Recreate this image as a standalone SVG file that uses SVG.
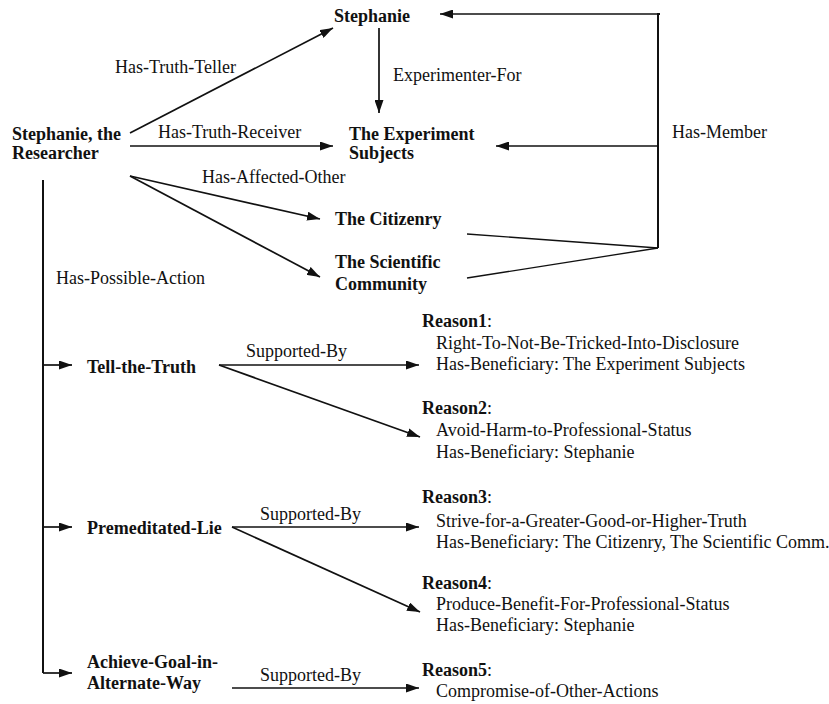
<svg xmlns="http://www.w3.org/2000/svg" width="829" height="704" viewBox="0 0 829 704" font-family="Liberation Serif" font-size="18">
  <defs>
    <marker id="arrow" viewBox="0 0 13 9" refX="13" refY="4.5" markerWidth="13" markerHeight="9" markerUnits="userSpaceOnUse" orient="auto">
      <path d="M0,0 L13,4.5 L0,9 Z" fill="#111"/>
    </marker>
    <style>
      text { fill: #111; }
      .node { font-weight: bold; }
      .edge { stroke: #111; stroke-width: 1.7; fill: none; }
      .arr { marker-end: url(#arrow); }
      .thin { stroke-width: 1.3; }
    </style>
  </defs>
  <rect width="829" height="704" fill="#fff"/>

  <!-- connectors -->
  <g id="connectors">
    <line class="edge arr" x1="130" y1="133" x2="333" y2="28"/>
    <line class="edge arr" x1="130" y1="146" x2="333" y2="146"/>
    <line class="edge arr" x1="379" y1="28" x2="379" y2="113"/>
    <line class="edge arr" x1="130" y1="176" x2="320" y2="219"/>
    <line class="edge arr" x1="130" y1="176" x2="320" y2="277"/>
    <!-- Has-Member bracket -->
    <line class="edge thin" x1="467" y1="234" x2="658" y2="248"/>
    <line class="edge thin" x1="467" y1="278" x2="658" y2="248"/>
    <polyline class="edge" points="658,248 658,14 660,14" style="stroke-width:2"/>
    <line class="edge arr" x1="658" y1="14" x2="440" y2="14"/>
    <line class="edge arr" x1="658" y1="146" x2="496" y2="146"/>
    <!-- Has-Possible-Action spine -->
    <polyline class="edge" points="43,180 43,673" style="stroke-width:2"/>
    <line class="edge arr" x1="43" y1="365" x2="72" y2="365"/>
    <line class="edge arr" x1="43" y1="527" x2="72" y2="527"/>
    <line class="edge arr" x1="43" y1="673" x2="72" y2="673"/>
    <!-- Supported-By edges -->
    <line class="edge arr" x1="219" y1="365" x2="419" y2="365"/>
    <line class="edge arr" x1="219" y1="365" x2="420" y2="437"/>
    <line class="edge arr" x1="232" y1="527" x2="419" y2="527"/>
    <line class="edge arr" x1="232" y1="527" x2="420" y2="612"/>
    <line class="edge arr" x1="232" y1="688" x2="419" y2="688"/>
  </g>

  <!-- connector labels -->
  <g id="edge-labels">
    <text x="115" y="73">Has-Truth-Teller</text>
    <text x="158" y="138">Has-Truth-Receiver</text>
    <text x="393" y="81">Experimenter-For</text>
    <text x="202" y="183">Has-Affected-Other</text>
    <text x="672" y="138">Has-Member</text>
    <text x="56" y="284">Has-Possible-Action</text>
    <text x="246" y="357">Supported-By</text>
    <text x="260" y="520">Supported-By</text>
    <text x="260" y="681">Supported-By</text>
  </g>

  <g id="researcher">
    <text class="node" x="12" y="140">Stephanie, the</text>
    <text class="node" x="12" y="159">Researcher</text>
  </g>
  <g id="stephanie">
    <text class="node" x="334" y="22">Stephanie</text>
  </g>
  <g id="experiment-subjects">
    <text class="node" x="349" y="140">The Experiment</text>
    <text class="node" x="349" y="159">Subjects</text>
  </g>
  <g id="citizenry">
    <text class="node" x="335" y="225">The Citizenry</text>
  </g>
  <g id="scientific-community">
    <text class="node" x="335" y="268">The Scientific</text>
    <text class="node" x="335" y="290">Community</text>
  </g>
  <g id="tell-the-truth">
    <text class="node" x="87" y="373">Tell-the-Truth</text>
  </g>
  <g id="premeditated-lie">
    <text class="node" x="87" y="534">Premeditated-Lie</text>
  </g>
  <g id="achieve-goal">
    <text class="node" x="87" y="668">Achieve-Goal-in-</text>
    <text class="node" x="87" y="689">Alternate-Way</text>
  </g>

  <g id="reason1">
    <text x="422" y="327"><tspan font-weight="bold">Reason1</tspan>:</text>
    <text x="436" y="349">Right-To-Not-Be-Tricked-Into-Disclosure</text>
    <text x="436" y="370">Has-Beneficiary: The Experiment Subjects</text>
  </g>
  <g id="reason2">
    <text x="422" y="414"><tspan font-weight="bold">Reason2</tspan>:</text>
    <text x="436" y="436">Avoid-Harm-to-Professional-Status</text>
    <text x="436" y="458">Has-Beneficiary: Stephanie</text>
  </g>
  <g id="reason3">
    <text x="422" y="503"><tspan font-weight="bold">Reason3</tspan>:</text>
    <text x="436" y="527">Strive-for-a-Greater-Good-or-Higher-Truth</text>
    <text x="436" y="548">Has-Beneficiary: The Citizenry, The Scientific Comm.</text>
  </g>
  <g id="reason4">
    <text x="422" y="589"><tspan font-weight="bold">Reason4</tspan>:</text>
    <text x="436" y="610">Produce-Benefit-For-Professional-Status</text>
    <text x="436" y="631">Has-Beneficiary: Stephanie</text>
  </g>
  <g id="reason5">
    <text x="422" y="676"><tspan font-weight="bold">Reason5</tspan>:</text>
    <text x="436" y="697">Compromise-of-Other-Actions</text>
  </g>
</svg>
